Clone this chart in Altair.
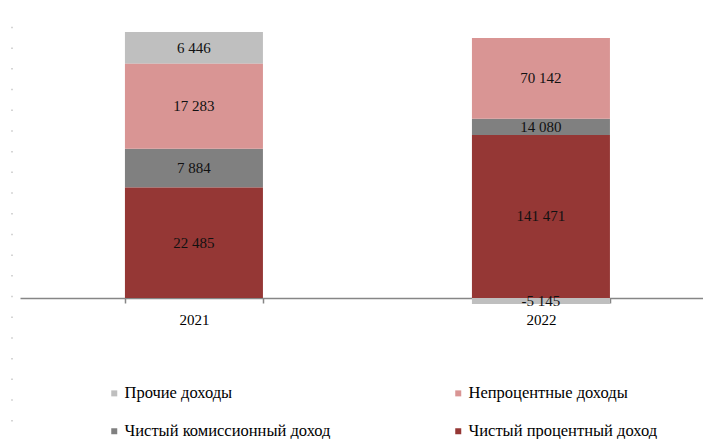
import altair as alt
import pandas as pd

years = ["2021", "2022"]
categories = ["Прочие доходы", "Чистый комиссионный доход", "Непроцентные доходы", "Чистый процентный доход"]
stack_order = [3, 1, 2, 0]
colors = ["#BFBFBF", "#808080", "#D99594", "#953735"]
values_2021 = [6446, 7884, 17283, 22485]
values_2022 = [-5145, 14080, 70142, 141471]

rows = []
for yr, vals in zip(years, [values_2021, values_2022]):
    for c, o, v in zip(categories, stack_order, vals):
        rows.append({"year": yr, "cat": c, "ord": o, "value": v,
                     "label": f"{v:,}".replace(",", " ")})
df = pd.DataFrame(rows)

FONT = "Liberation Serif, 'Times New Roman', Times, serif"

base = alt.Chart(df).transform_calculate(
    absval="abs(datum.value)"
).transform_joinaggregate(
    total="sum(absval)", groupby=["year"]
).transform_calculate(
    share="datum.value / datum.total"
).transform_stack(
    stack="share", groupby=["year"], as_=["s0", "s1"],
    sort=[alt.SortField("ord", order="ascending")], offset="zero"
).transform_calculate(
    mid="(datum.s0 + datum.s1) / 2"
)

xscale = alt.Scale(paddingInner=0.6023, paddingOuter=0.2853, align=0.53)
xenc = alt.X("year:N", scale=xscale,
             axis=alt.Axis(title=None, labelAngle=0, tickBand="extent",
                           domainColor="#868686", domainWidth=1.5,
                           tickColor="#868686", tickWidth=1.5, tickSize=5,
                           labelFont=FONT, labelFontSize=15, labelColor="#000000",
                           labelPadding=9))
yscale = alt.Scale(domain=[0, 1], nice=False, zero=False)

bars = base.mark_bar().encode(
    x=xenc,
    y=alt.Y("s0:Q", scale=yscale, axis=None),
    y2="s1:Q",
    color=alt.Color("cat:N", scale=alt.Scale(domain=categories, range=colors),
                    legend=alt.Legend(orient="none", legendX=86, legendY=353,
                                      columns=2, columnPadding=119, rowPadding=21,
                                      symbolType="square", symbolSize=36,
                                      symbolStrokeWidth=0, labelOffset=2,
                                      labelFont=FONT, labelFontSize=16.5,
                                      labelColor="#000000", labelLimit=0,
                                      title=None)),
)

texts = base.mark_text(font=FONT, fontSize=15, color="#111111").encode(
    x=alt.X("year:N", scale=xscale),
    y=alt.Y("mid:Q", scale=yscale),
    text="label:N",
)

dots = alt.Chart(pd.DataFrame({"a": [0]})).mark_rule(
    color="#c8c8c8", strokeWidth=1.5, strokeDash=[1.5, 19.2]
).encode(x=alt.value(-8), y=alt.value(-26), y2=alt.value(402))

chart = alt.layer(dots, bars, texts).properties(
    width=683, height=266,
    autosize=alt.AutoSizeParams(type="none"),
    padding={"left": 12, "top": 24, "right": 0, "bottom": 141},
).configure_view(stroke=None)

chart.save("out.html", embed_options={"renderer": "svg", "actions": False})
